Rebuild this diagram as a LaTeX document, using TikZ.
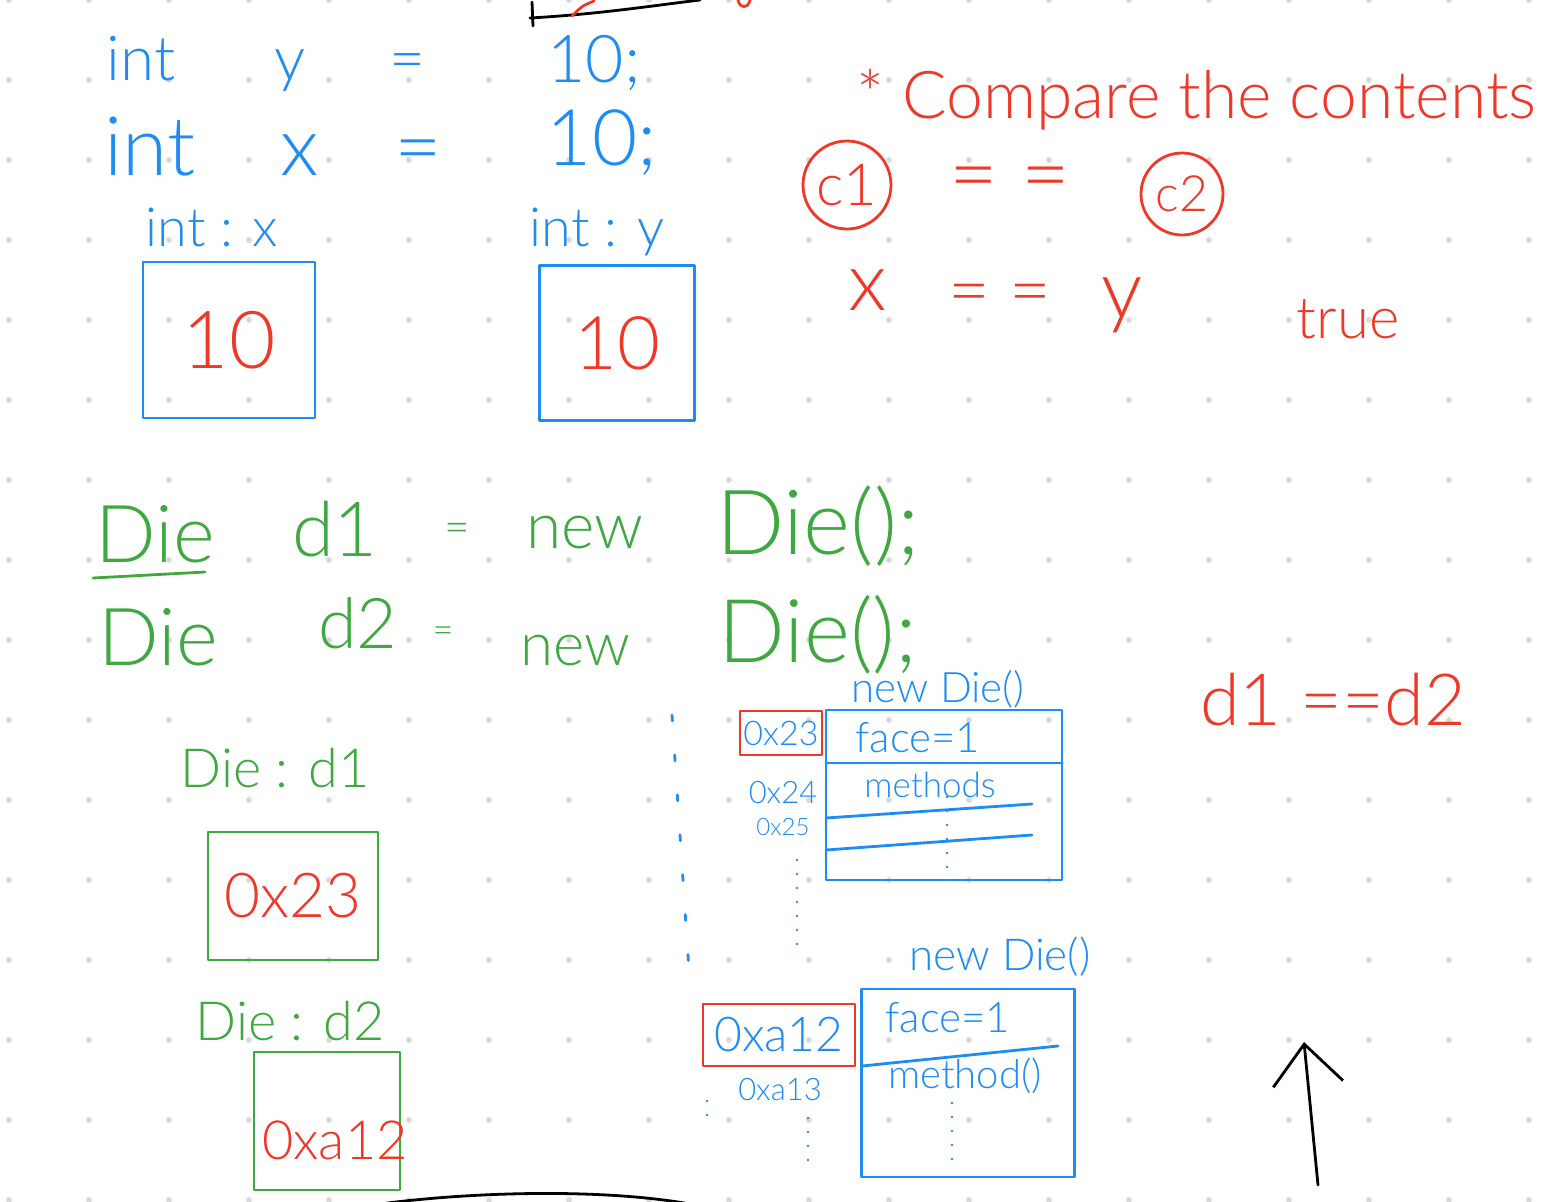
\documentclass[tikz,border=0pt]{standalone}
\usepackage{fontspec}
\setmainfont{Lato Light}
\usetikzlibrary{arrows.meta}
\definecolor{penblue}{RGB}{30,140,240}
\definecolor{penred}{RGB}{238,56,40}
\definecolor{pengreen}{RGB}{64,168,64}
\definecolor{dotgray}{RGB}{218,218,218}
\newcommand{\penfont}[1]{\fontsize{#1}{#1}\selectfont}

\begin{document}
\begin{tikzpicture}[x=1pt,y=-1pt,line width=2.8pt,line cap=round,line join=round,bt/.style={inner sep=0pt,text=penblue},rt/.style={inner sep=0pt,text=penred},gt/.style={inner sep=0pt,text=pengreen},bbox/.style={draw=penblue,inner sep=0pt},gbox/.style={draw=pengreen,inner sep=0pt},rbox/.style={draw=penred,inner sep=0pt},dots/.style={penblue,dash pattern=on 0pt off 14pt}]
\fill[white] (0,0) rectangle (1548,1202);
\useasboundingbox (0,0) rectangle (1548,1202);
% dot grid of the page
\foreach \i in {0,...,19}
  \foreach \j in {0,...,15}
    \fill[dotgray] (9+80*\i,80*\j) circle (3pt);
% bits of the previous page
\draw[black] (530,18) .. controls (600,14) and (650,6) .. (700,0);
\draw[black] (532,2) -- (533,26);
\draw[penred] (572,16) .. controls (582,6) .. (594,1);
\draw[penred] (738,0) .. controls (740,9) and (748,9) .. (750,0);
% primitives
\node[bt,anchor=base,font=\penfont{62}] (i1) at (141,80) {int};
\node[bt,anchor=base,font=\penfont{62}] (vy) at (290,80) {y};
\node[bt,anchor=base,font=\penfont{62}] (e1) at (407,80) {=};
\node[bt,anchor=base,font=\penfont{66}] (n1) at (594,82) {10;};
\node[bt,anchor=base,font=\penfont{82}] (i2) at (150,175) {int};
\node[bt,anchor=base,font=\penfont{82}] (vx) at (300,175) {x};
\node[bt,anchor=base,font=\penfont{82}] (e2) at (418,175) {=};
\node[bt,anchor=base,font=\penfont{78}] (n2) at (602,165) {10;};
\node[bt,anchor=base,font=\penfont{54}] (lx) at (212,246) {int : x};
\node[bt,anchor=base,font=\penfont{54}] (ly) at (597,246) {int : y};
\node[bbox,minimum width=172pt,minimum height=156pt,text=penred,font=\penfont{80}] (bx) at (229,340) {10};
\node[bbox,minimum width=155pt,minimum height=155pt,text=penred,font=\penfont{74}] (by) at (617,343) {10};
% comparing contents
\node[rt,anchor=base west,font=\penfont{66}] (cmp) at (855,118) {* Compare the contents};
\node[rt,circle,draw=penred,minimum size=88pt,font=\penfont{58}] (c1) at (847,185) {c1};
\node[rt,font=\penfont{84}] (ceq) at (1010,185) {= =};
\node[rt,circle,draw=penred,minimum size=82pt,font=\penfont{50}] (c2) at (1182,194) {c2};
\node[rt,anchor=base,font=\penfont{82}] (rx) at (868,310) {x};
\node[rt,font=\penfont{72}] (req) at (1000,300) {= =};
\node[rt,anchor=base,font=\penfont{82}] (ry) at (1122,318) {y};
\node[rt,anchor=base,font=\penfont{58}] (tr) at (1348,338) {true};
% objects
\node[gt,anchor=base,font=\penfont{80}] (t1) at (155,562) {Die};
\draw[pengreen] (93,578) -- (205,572);
\node[gt,anchor=base,font=\penfont{76}] (d1) at (335,556) {d1};
\node[gt,font=\penfont{44}] (q1) at (457,533) {=};
\node[gt,anchor=base,font=\penfont{64}] (w1) at (585,548) {new};
\node[gt,anchor=base,font=\penfont{90}] (k1) at (818,554) {Die();};
\node[gt,anchor=base,font=\penfont{80}] (t2) at (158,665) {Die};
\node[gt,anchor=base,font=\penfont{70}] (d2) at (358,648) {d2};
\node[gt,font=\penfont{36}] (q2) at (443,635) {=};
\node[gt,anchor=base,font=\penfont{60}] (w2) at (575,665) {new};
\node[gt,anchor=base,font=\penfont{88}] (k2) at (818,662) {Die();};
\node[gt,anchor=base,font=\penfont{54}] (ld1) at (275,787) {Die : d1};
\node[gbox,minimum width=170pt,minimum height=128pt,text=penred,font=\penfont{62}] (g1) at (293,896) {0x23};
\node[gt,anchor=base,font=\penfont{54}] (ld2) at (290,1040) {Die : d2};
\node[gbox,minimum width=146pt,minimum height=138pt] (g2) at (327,1121) {};
\node[rt,font=\penfont{54}] (a2) at (335,1140) {0xa12};
% heap, first object
\node[bt,anchor=base,font=\penfont{42}] (h1) at (938,702) {new Die()};
\node[bbox,minimum width=236pt,minimum height=170pt] (o1) at (944,795) {};
\draw[penblue] (826,763) -- (1062,763);
\draw[penblue] (826,818) -- (1032,804);
\draw[penblue] (826,850) -- (1032,835);
\node[bt,font=\penfont{42}] (f1) at (918,738) {face=1};
\node[bt,font=\penfont{35}] (md1) at (930,785) {methods};
\node[rbox,text=penblue,minimum width=82pt,minimum height=44pt,font=\penfont{34}] (m1) at (781,733) {0x23};
\node[bt,font=\penfont{31}] (m1b) at (783,793) {0x24};
\node[bt,font=\penfont{24}] (m1c) at (783,827) {0x25};
\draw[dots] (947,797) -- (947,878);
\draw[dots] (797,860) -- (797,945);
\draw[penblue,dash pattern=on 6pt off 34pt] (672,715) -- (690,985);
% heap, second object
\node[bt,anchor=base,font=\penfont{44}] (h2) at (1000,970) {new Die()};
\node[bbox,minimum width=213pt,minimum height=188pt] (o2) at (968,1083) {};
\draw[penblue] (862,1066) -- (1058,1046);
\node[bt,font=\penfont{42}] (f2) at (948,1018) {face=1};
\node[bt,font=\penfont{40}] (md2) at (965,1076) {method()};
\node[rbox,text=penblue,minimum width=152pt,minimum height=62pt,font=\penfont{48}] (m2) at (779,1035) {0xa12};
\node[bt,font=\penfont{31}] (m2b) at (780,1090) {0xa13};
\draw[dots] (952,1103) -- (952,1168);
\draw[dots] (808,1118) -- (808,1164);
\draw[dots] (707,1101) -- (707,1129);
% reference compare
\node[rt,font=\penfont{72}] (dd) at (1333,700) {d1 ==d2};
\coordinate (up0) at (1318,1185);
\coordinate (up1) at (1304,1042);
\draw[black,-{Straight Barb[length=40pt,width=70pt]}] (up0) -- (up1);
\draw[black] (380,1204) .. controls (470,1192) and (600,1188) .. (690,1204);
\end{tikzpicture}
\end{document}
